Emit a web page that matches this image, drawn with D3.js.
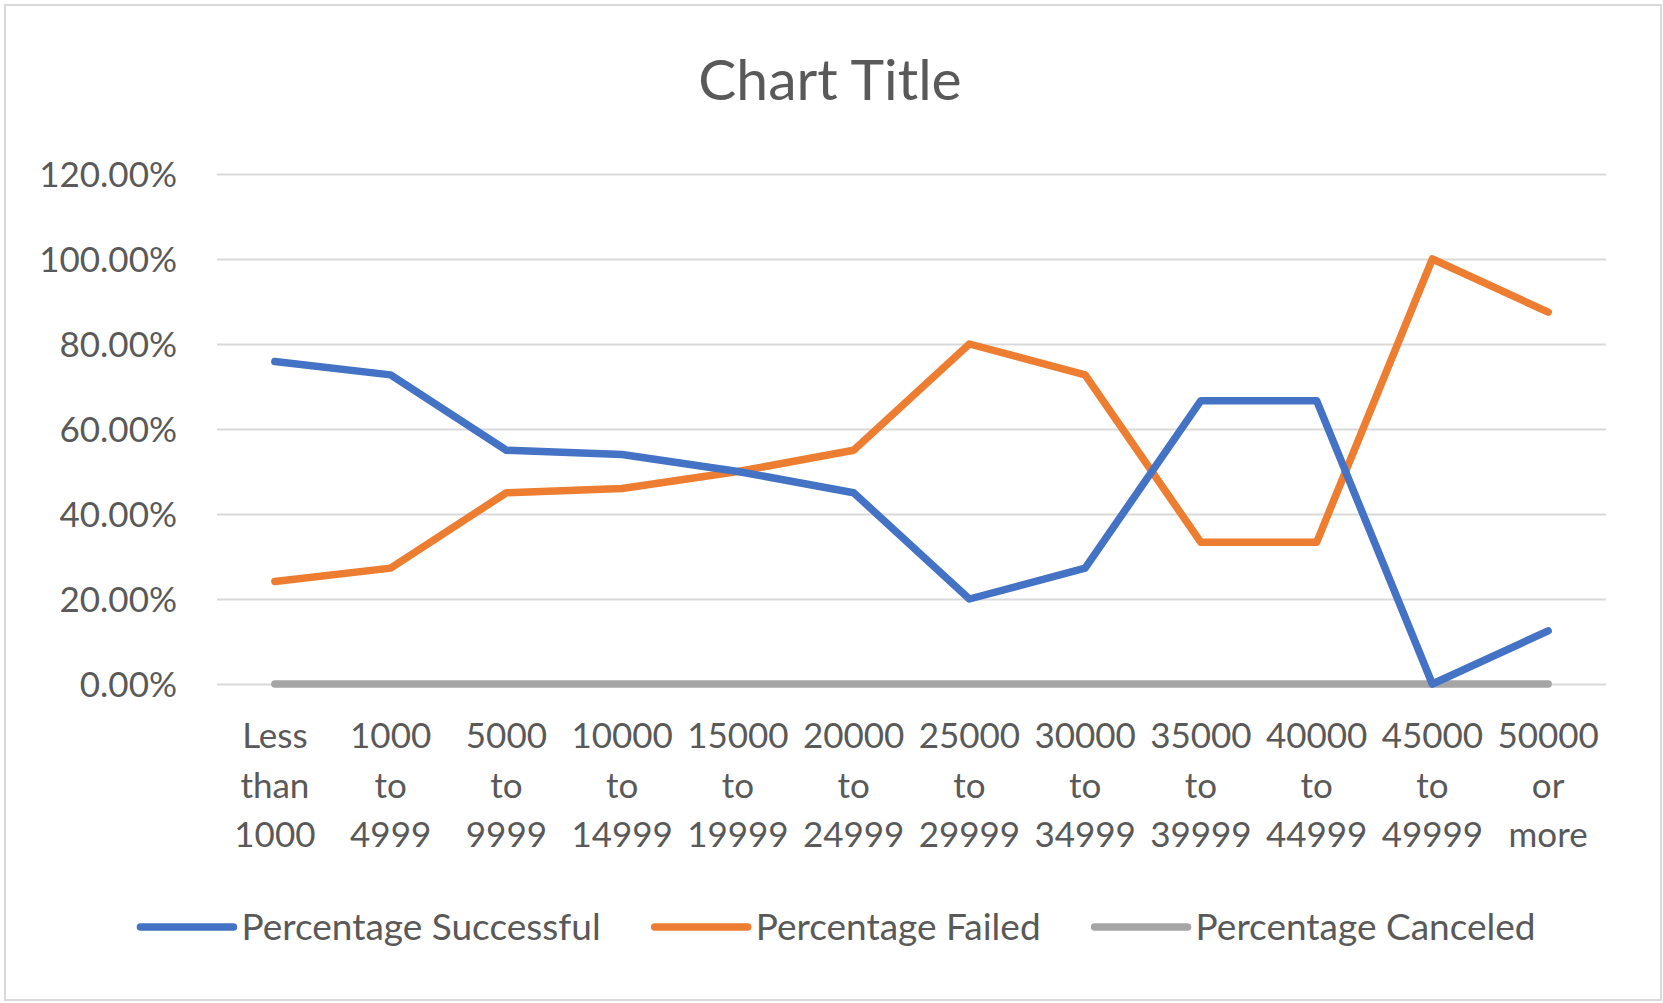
<html>
<head>
<script src="https://d3js.org/d3.v7.min.js"></script>
<style>
  body { margin: 0; background: #fff; }
  svg text { font-family: Lato, "Open Sans", sans-serif; fill: #595959; }
</style>
</head>
<body>
<script>
var categories = [
  ["Less", "than", "1000"], ["1000", "to", "4999"], ["5000", "to", "9999"],
  ["10000", "to", "14999"], ["15000", "to", "19999"], ["20000", "to", "24999"],
  ["25000", "to", "29999"], ["30000", "to", "34999"], ["35000", "to", "39999"],
  ["40000", "to", "44999"], ["45000", "to", "49999"], ["50000", "or", "more"]
];
var successful = [0.7586, 0.7273, 0.55, 0.54, 0.50, 0.45, 0.20, 0.2727, 0.6667, 0.6667, 0.0, 0.125];
var failed     = [0.2414, 0.2727, 0.45, 0.46, 0.50, 0.55, 0.80, 0.7273, 0.3333, 0.3333, 1.0, 0.875];
var canceled   = [0, 0, 0, 0, 0, 0, 0, 0, 0, 0, 0, 0];
var yTicks = [0, 0.2, 0.4, 0.6, 0.8, 1.0, 1.2];
var seriesNames = ["Percentage Successful", "Percentage Failed", "Percentage Canceled"];
var colors = ["#4472C4", "#ED7D31", "#A5A5A5"];

var W = 1663, H = 1003;
var plotLeft = 217, plotRight = 1606, plotTop = 174, plotBottom = 684;

var svg = d3.select("body").append("svg")
  .attr("width", W).attr("height", H);

svg.append("rect")
  .attr("x", 5).attr("y", 5).attr("width", 1656).attr("height", 995)
  .attr("fill", "#fff").attr("stroke", "#D9D9D9").attr("stroke-width", 2);

svg.append("text")
  .attr("x", 830).attr("y", 100)
  .attr("text-anchor", "middle")
  .style("font-size", "57px")
  .text("Chart Title");

var x = d3.scalePoint()
  .domain(d3.range(categories.length))
  .range([plotLeft, plotRight])
  .padding(0.5);

var y = d3.scaleLinear().domain([0, 1.2]).range([plotBottom, plotTop]);

// gridlines + y labels
var yAxis = svg.append("g")
  .attr("transform", "translate(" + plotLeft + ",0)")
  .call(d3.axisLeft(y).tickValues(yTicks).tickFormat(d3.format(".2%"))
    .tickSize(-(plotRight - plotLeft)).tickPadding(40));
yAxis.select(".domain").remove();
yAxis.selectAll("line").attr("stroke", "#D9D9D9").attr("stroke-width", 2);
yAxis.selectAll("text")
  .style("font-size", "35px")
  .attr("fill", "#595959")
  .attr("dy", "0.36em");

// x labels
var xl = svg.append("g").selectAll("text")
  .data(categories)
  .enter().append("text")
  .attr("text-anchor", "middle")
  .style("font-size", "35px")
  .attr("transform", function(d, i) { return "translate(" + x(i) + ",748)"; });
xl.selectAll("tspan")
  .data(function(d) { return d; })
  .enter().append("tspan")
  .attr("x", 0)
  .attr("y", function(d, j) { return j * 49.5; })
  .text(function(d) { return d; });

var line = d3.line()
  .x(function(d, i) { return x(i); })
  .y(function(d) { return y(d); });

var allSeries = [successful, failed, canceled];
svg.append("g").selectAll("path")
  .data(allSeries.slice().reverse())
  .enter().append("path")
  .attr("d", line)
  .attr("fill", "none")
  .attr("stroke", function(d, i) { return colors[2 - i]; })
  .attr("stroke-width", 7.5)
  .attr("stroke-linecap", "round")
  .attr("stroke-linejoin", "round");

// legend
var legend = svg.append("g");
var items = legend.selectAll("g")
  .data(seriesNames)
  .enter().append("g");
items.append("line")
  .attr("x1", 0).attr("x2", 93).attr("y1", 0).attr("y2", 0)
  .attr("stroke", function(d, i) { return colors[i]; })
  .attr("stroke-width", 7.5)
  .attr("stroke-linecap", "round");
items.append("text")
  .attr("x", 101).attr("y", 0).attr("dy", "0.35em")
  .style("font-size", "37px")
  .text(function(d) { return d; });

var widths = [];
items.each(function() { widths.push(this.getBBox().width); });
var gap = 54;
var total = d3.sum(widths) + gap * (widths.length - 1);
var pos = 838 - total / 2;
items.attr("transform", function(d, i) {
  var t = "translate(" + pos + ",927)";
  pos += widths[i] + gap;
  return t;
});
</script>
</body>
</html>
